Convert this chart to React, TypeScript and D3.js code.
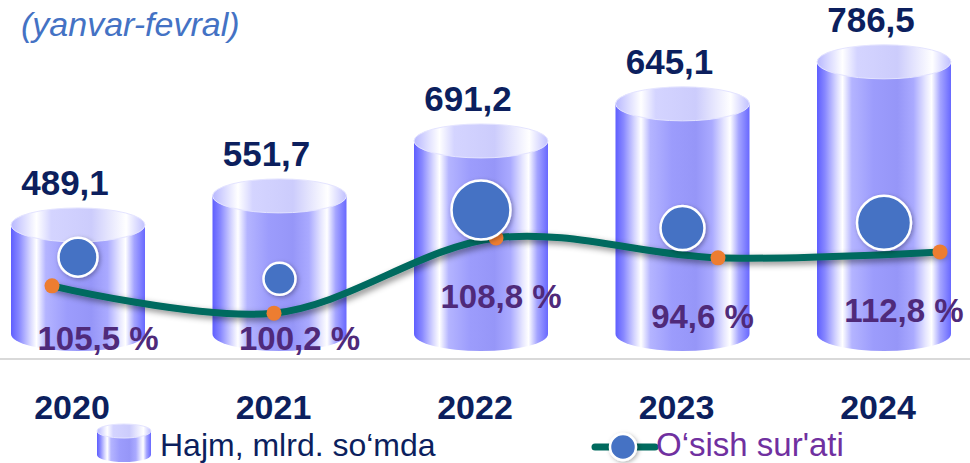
import React from 'react';
import * as d3 from 'd3';

// ---- data ----
const years = ['2020', '2021', '2022', '2023', '2024'];
const volume = [489.1, 551.7, 691.2, 645.1, 786.5]; // Hajm, mlrd. so'mda
const growth = [105.5, 100.2, 108.8, 94.6, 112.8]; // O'sish sur'ati, %
// drawn levels on the picture's hidden 0–100 display axis
const cylinderLevel = [38.3, 46.6, 62.3, 72.9, 84.9];
const lineLevel = [20.9, 13.1, 34.6, 28.9, 30.6];
const bubbleLevel = [29.1, 22.9, 42.6, 37.4, 38.9];
const bubbleSize = [19.5, 16, 29.5, 22, 27];

const subtitle = '(yanvar-fevral)';
const legendVolume = 'Hajm, mlrd. so‘mda';
const legendGrowth = "O‘sish sur'ati";

const W = 970;
const H = 463;
const FONT = "'Liberation Sans', Arial, Helvetica, sans-serif";
const fmt = (v: number) => d3.format('.1f')(v).replace('.', ',');

export default function App() {
  const baseY = 359;
  const y = d3.scaleLinear().domain([0, 100]).range([baseY, 9]);
  const xBar = d3.scalePoint<string>().domain(years).range([78, 884]);
  const xLine = d3.scalePoint<string>().domain(years).range([52, 940]);
  const r = d3.scaleLinear().domain([0, 30]).range([0, 30]);
  const rx = 67;
  const ry = 17;
  const bottomC = baseY - 8 - ry;

  const linePath = d3
    .line<number>()
    .x((_, i) => xLine(years[i]) as number)
    .y((d) => y(d))
    .curve(d3.curveCatmullRom.alpha(0.5))(lineLevel) as string;

  const cylinder = (cx: number, top: number, bottom: number, a: number, b: number, key: string) => (
    <g key={key}>
      <path
        d={`M${cx - a},${top} L${cx - a},${bottom} A${a},${b} 0 0 0 ${cx + a},${bottom} L${cx + a},${top} Z`}
        fill="url(#bodyGrad)"
      />
      <ellipse cx={cx} cy={top} rx={a} ry={b} fill="url(#topGrad)" stroke="#e4e4ff" strokeWidth={1} />
    </g>
  );

  return (
    <svg
      width={W}
      height={H}
      viewBox={`0 0 ${W} ${H}`}
      style={{ position: 'absolute', left: 0, top: 0, background: '#fff' }}
      fontFamily={FONT}
    >
      <defs>
        <linearGradient id="bodyGrad" x1="0" y1="0" x2="1" y2="0">
          <stop offset="0" stopColor="#5e5eff" />
          <stop offset="0.06" stopColor="#8888ff" />
          <stop offset="0.14" stopColor="#d4d4ff" />
          <stop offset="0.19" stopColor="#ffffff" />
          <stop offset="0.26" stopColor="#b4b4ff" />
          <stop offset="0.42" stopColor="#9c9cfc" />
          <stop offset="0.6" stopColor="#9696f8" />
          <stop offset="0.72" stopColor="#aaaaff" />
          <stop offset="0.81" stopColor="#e6e6ff" />
          <stop offset="0.855" stopColor="#ffffff" />
          <stop offset="0.92" stopColor="#a4a4ff" />
          <stop offset="1" stopColor="#6868ff" />
        </linearGradient>
        <linearGradient id="topGrad" x1="0" y1="0" x2="1" y2="0">
          <stop offset="0" stopColor="#b8b8ff" />
          <stop offset="0.19" stopColor="#ffffff" />
          <stop offset="0.3" stopColor="#d4d4ff" />
          <stop offset="0.6" stopColor="#ccccfc" />
          <stop offset="0.86" stopColor="#ffffff" />
          <stop offset="1" stopColor="#c0c0ff" />
        </linearGradient>
        <filter id="lineShadow" x="-10%" y="-50%" width="120%" height="200%">
          <feDropShadow dx="3" dy="3" stdDeviation="3" floodColor="#000" floodOpacity="0.45" />
        </filter>
        <filter id="bubShadow" x="-30%" y="-30%" width="160%" height="160%">
          <feDropShadow dx="1.5" dy="1.5" stdDeviation="2" floodColor="#000" floodOpacity="0.3" />
        </filter>
      </defs>

      {/* subtitle */}
      <text x={21} y={36} fontSize={34} fontStyle="italic" fill="#4472c4">
        {subtitle}
      </text>

      {/* baseline */}
      <line x1={0} x2={W} y1={baseY} y2={baseY} stroke="#d9d9d9" strokeWidth={2} />

      {/* cylinders */}
      {years.map((yr, i) => cylinder(xBar(yr) as number, y(cylinderLevel[i]), bottomC, rx, ry, yr))}

      {/* growth line */}
      <path d={linePath} fill="none" stroke="#006a5e" strokeWidth={7} strokeLinecap="round" filter="url(#lineShadow)" />
      {years.map((yr, i) => (
        <circle key={yr} cx={xLine(yr) as number} cy={y(lineLevel[i])} r={7.5} fill="#ed7d31" />
      ))}

      {/* bubbles */}
      {years.map((yr, i) => (
        <circle
          key={yr}
          cx={xBar(yr) as number}
          cy={y(bubbleLevel[i])}
          r={r(bubbleSize[i])}
          fill="#4472c4"
          stroke="#ffffff"
          strokeWidth={2.5}
          filter="url(#bubShadow)"
        />
      ))}

      {/* volume labels */}
      {years.map((yr, i) => (
        <text
          key={yr}
          x={(xBar(yr) as number) - 13}
          y={y(cylinderLevel[i]) - ry - 13}
          fontSize={35}
          fontWeight="bold"
          fill="#0c1f5e"
          textAnchor="middle"
        >
          {fmt(volume[i])}
        </text>
      ))}

      {/* growth labels */}
      {years.map((yr, i) => (
        <text
          key={yr}
          x={(xBar(yr) as number) + 20}
          y={Math.min(y(lineLevel[i]) + 70, 350)}
          fontSize={33}
          fontWeight="bold"
          fill="#4f2a7a"
          textAnchor="middle"
        >
          {fmt(growth[i]) + ' %'}
        </text>
      ))}

      {/* year labels */}
      {years.map((yr) => (
        <text
          key={yr}
          x={(xBar(yr) as number) - 6}
          y={419}
          fontSize={34}
          fontWeight="bold"
          fill="#0c1f5e"
          textAnchor="middle"
        >
          {yr}
        </text>
      ))}

      {/* legend */}
      {cylinder(124, 431, 455, 27, 7, 'legendCyl')}
      <text x={160} y={456} fontSize={32} fill="#0c1f5e">
        {legendVolume}
      </text>
      <line x1={595} x2={655} y1={447} y2={447} stroke="#006a5e" strokeWidth={7} strokeLinecap="round" />
      <circle cx={623} cy={447} r={13} fill="#4472c4" stroke="#ffffff" strokeWidth={2.5} filter="url(#bubShadow)" />
      <text x={656} y={456} fontSize={33} fill="#7030a0">
        {legendGrowth}
      </text>
    </svg>
  );
}
